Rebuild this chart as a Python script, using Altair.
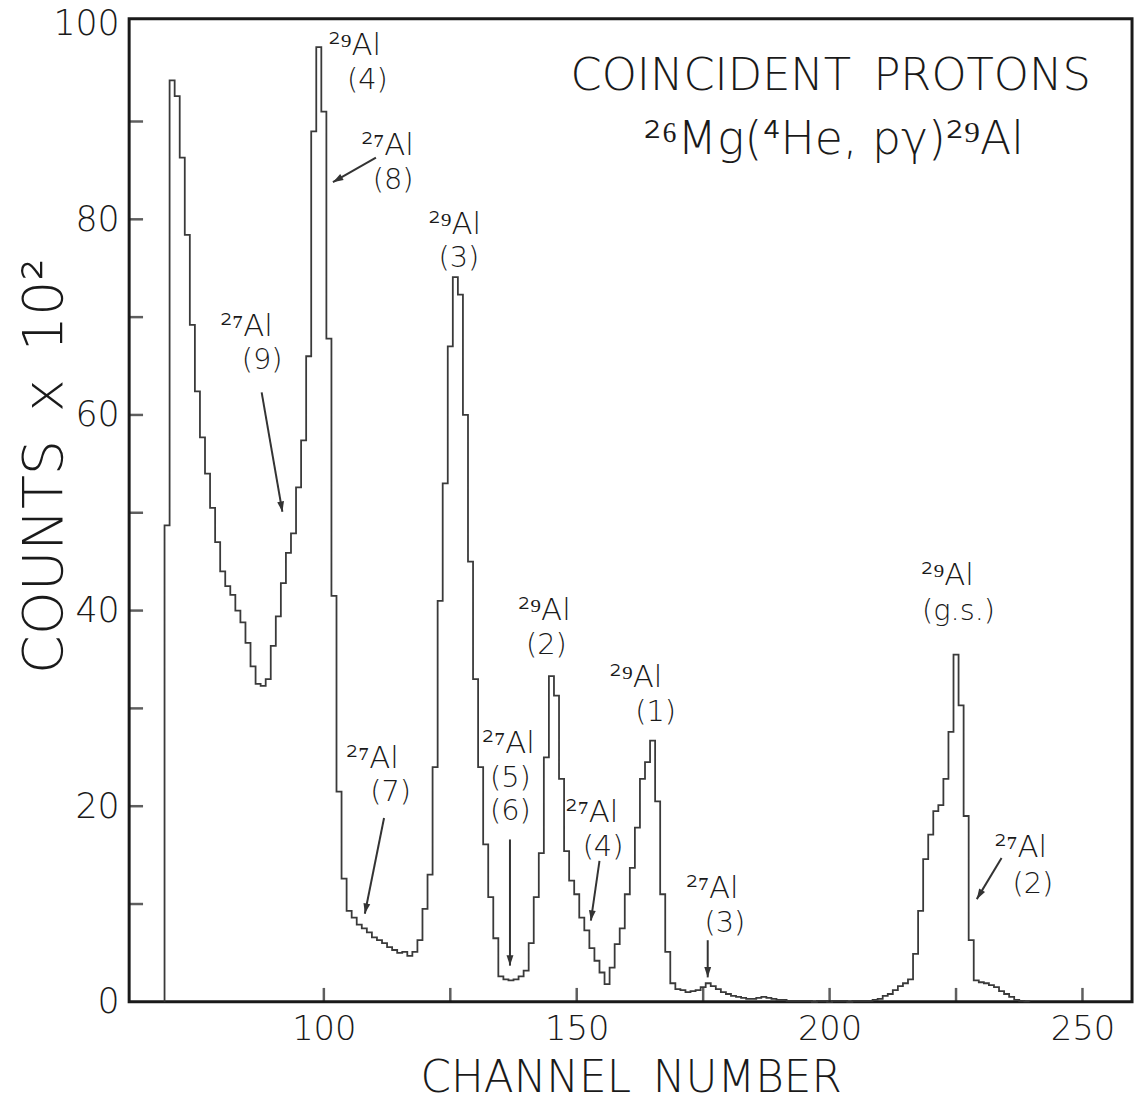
import math
import altair as alt
import pandas as pd

# ---------------- data ----------------
FIRST_CHANNEL = 69
counts = [
    48.7, 94.2, 92.6, 86.3, 78.4, 69.2, 62.4, 57.7, 54.0, 50.5,   # 69-78
    47.0, 44.0, 42.5, 41.6, 40.0, 38.8, 36.7, 34.3, 32.5, 32.3,   # 79-88
    33.0, 36.4, 39.4, 42.8, 45.9, 47.9, 52.6, 57.4, 66.0, 89.0,   # 89-98
    97.6, 91.0, 67.8, 41.5, 21.5, 12.6, 9.3, 8.6, 7.9, 7.5,       # 99-108
    7.1, 6.6, 6.3, 6.0, 5.6, 5.3, 5.0, 5.1, 4.7, 5.1,             # 109-118
    6.3, 9.5, 13.0, 24.0, 41.0, 53.0, 67.0, 74.1, 72.3, 60.0,     # 119-128
    45.0, 33.0, 24.0, 16.1, 10.7, 6.5, 2.6, 2.3, 2.2, 2.3,        # 129-138
    2.6, 3.2, 6.0, 10.7, 15.2, 25.0, 33.3, 31.3, 22.8, 15.4,      # 139-148
    12.4, 11.0, 8.6, 7.3, 5.5, 4.2, 3.0, 1.8, 3.5, 5.9,           # 149-158
    7.5, 11.0, 13.7, 17.8, 22.8, 24.5, 26.7, 20.5, 11.0, 5.1,     # 159-168
    1.9, 1.3, 1.2, 1.0, 1.1, 1.2, 1.5, 1.9, 1.6, 1.3,             # 169-178
    1.0, 0.8, 0.6, 0.5, 0.4, 0.3, 0.3, 0.4, 0.5, 0.4,             # 179-188
    0.3, 0.2, 0.2, 0.1, 0.1, 0.1, 0.1, 0.1, 0.0, 0.1,             # 189-198
    0.1, 0.0, 0.1, 0.1, 0.1, 0.0, 0.1, 0.1, 0.1, 0.1,             # 199-208
    0.2, 0.3, 0.6, 0.8, 1.2, 1.6, 1.9, 2.3, 4.9, 9.3,             # 209-218
    14.6, 17.1, 19.5, 20.1, 22.8, 27.6, 35.5, 30.3, 19.0, 6.3,    # 219-228
    2.2, 2.0, 1.9, 1.7, 1.5, 1.1, 0.8, 0.5, 0.2, 0.1, 0.05,       # 229-239
]

y_tick_values = [10, 20, 30, 40, 50, 60, 70, 80, 90]
x_tick_values = [100, 125, 150, 175, 200, 225, 250]
y_label_values = [0, 20, 40, 60, 80, 100]
x_label_values = [100, 150, 200, 250]

# isotope labels (e.g. 29Al) and their level tags
iso_text = ["²⁹Al", "²⁷Al", "²⁹Al", "²⁷Al", "²⁷Al", "²⁹Al", "²⁷Al",
            "²⁹Al", "²⁷Al", "²⁷Al", "²⁹Al", "²⁷Al"]
iso_ch = [106.1, 112.6, 125.9, 84.7, 109.6, 143.6, 136.5,
          161.7, 153.0, 176.8, 223.3, 237.8]
iso_v = [97.7, 87.5, 79.4, 69.0, 24.8, 40.0, 26.4,
         33.1, 19.3, 11.5, 43.5, 15.7]

lvl_text = ["(4)", "(8)", "(3)", "(9)", "(7)", "(2)", "(5)", "(6)",
            "(1)", "(4)", "(3)", "(g.s.)", "(2)"]
lvl_ch = [108.6, 113.7, 126.7, 87.8, 113.2, 144.0, 136.9, 136.9,
          165.6, 155.2, 179.3, 225.5, 240.2]
lvl_v = [94.2, 84.0, 76.0, 65.6, 21.4, 36.5, 22.9, 19.5,
         29.6, 15.8, 8.1, 40.0, 12.0]

# arrows: tail (ch, v) -> tip (ch2, v2)
arrow_ch = [87.7, 110.3, 111.9, 136.8, 154.5, 175.9, 234.0]
arrow_v = [62.3, 86.3, 18.8, 16.6, 14.4, 6.3, 14.7]
arrow_ch2 = [91.8, 101.8, 108.1, 136.8, 152.8, 175.9, 229.1]
arrow_v2 = [50.1, 83.8, 9.0, 3.7, 8.3, 2.5, 10.5]

title_text = ["COINCIDENT\u2002PROTONS", "²⁶Mg(⁴He, pγ)²⁹Al"]
title_ch = [200.2, 200.8]
title_v = [94.6, 88.1]

# ---------------- layout / style ----------------
W, H = 1010, 990
X_MIN, X_MAX = 61.5, 259.8
Y_MIN, Y_MAX = 0.0, 100.5
FONT = "DejaVu Sans"
WEIGHT = 200
INK = "#1a1a1a"
LINE = "#3a3a3a"

hist_rows = [{"i": 0, "ch": FIRST_CHANNEL - 0.5, "v": 0.0}]
for k, val in enumerate(counts):
    hist_rows.append({"i": k + 1, "ch": FIRST_CHANNEL + k - 0.5, "v": val})
hist_rows.append({"i": len(counts) + 1, "ch": FIRST_CHANNEL + len(counts) - 0.5, "v": 0.0})
hist_df = pd.DataFrame(hist_rows)

px_ch = W / (X_MAX - X_MIN)
px_v = H / (Y_MAX - Y_MIN)
angles = []
for a, b, c, d in zip(arrow_ch, arrow_v, arrow_ch2, arrow_v2):
    dx = (c - a) * px_ch
    dy = -(d - b) * px_v
    angles.append(math.degrees(math.atan2(dx, -dy)) % 360)

rule_df = pd.DataFrame({"ch": arrow_ch, "v": arrow_v, "ch2": arrow_ch2, "v2": arrow_v2})
head_df = pd.DataFrame({"ch": arrow_ch2, "v": arrow_v2, "ang": angles})
iso_df = pd.DataFrame({"ch": iso_ch, "v": iso_v, "label": iso_text})
lvl_df = pd.DataFrame({"ch": lvl_ch, "v": lvl_v, "label": lvl_text})
title_df = pd.DataFrame({"ch": title_ch, "v": title_v, "label": title_text,
                         "fs": [45, 46]})

x_scale = alt.Scale(domain=[X_MIN, X_MAX], nice=False, zero=False)
y_scale = alt.Scale(domain=[Y_MIN, Y_MAX], nice=False, zero=False)

x_axis = alt.Axis(values=x_label_values, ticks=False, tickSize=0, domain=False, grid=False,
                  labelFontSize=34, labelFont=FONT, labelFontWeight=WEIGHT, labelColor=INK,
                  labelPadding=11, labelFlush=False, title="CHANNEL\u2002NUMBER",
                  titleFont=FONT, titleFontSize=44, titleFontWeight=WEIGHT, titleColor=INK,
                  titleX=W / 2, titleY=90, titleAlign="center", titleBaseline="alphabetic")
y_axis = alt.Axis(values=y_label_values, ticks=False, tickSize=0, domain=False, grid=False,
                  labelFontSize=35, labelFont=FONT, labelFontWeight=WEIGHT, labelColor=INK,
                  labelPadding=10, title="COUNTS\u2002x\u200210²", titleFont=FONT,
                  titleFontSize=56, titleFontWeight=WEIGHT, titleColor=INK, titleAngle=270,
                  titleX=-68, titleY=450, titleAlign="center", titleBaseline="alphabetic")

X = alt.X("ch:Q", scale=x_scale, axis=x_axis)
Y = alt.Y("v:Q", scale=y_scale, axis=y_axis)

hist = alt.Chart(hist_df).mark_line(
    interpolate="step-after", color=LINE, strokeWidth=1.8
).encode(X, Y, order=alt.Order("i:Q"))

yticks = alt.Chart(pd.DataFrame({"v": y_tick_values})).mark_tick(
    orient="horizontal", size=14, thickness=2.5, color=INK
).encode(x=alt.value(7), y=Y)

xticks = alt.Chart(pd.DataFrame({"ch": x_tick_values})).mark_tick(
    orient="vertical", size=14, thickness=2.5, color=INK
).encode(x=X, y=alt.value(H - 7))

rules = alt.Chart(rule_df).mark_rule(color="#333333", strokeWidth=2).encode(
    X, Y, x2="ch2:Q", y2="v2:Q")

heads = alt.Chart(head_df).mark_point(
    shape="M0,0L-0.4,1.2L0.4,1.2Z", filled=True, size=300, color="#333333", opacity=1
).encode(X, Y, angle=alt.Angle("ang:Q", scale=None))

iso = alt.Chart(iso_df).mark_text(
    font=FONT, fontWeight=WEIGHT, fontSize=31, color=INK, align="center", baseline="middle"
).encode(X, Y, text="label:N")

lvl = alt.Chart(lvl_df).mark_text(
    font=FONT, fontWeight=WEIGHT, fontSize=29, color=INK, align="center", baseline="middle"
).encode(X, Y, text="label:N")

titles = alt.Chart(title_df).mark_text(
    font=FONT, fontWeight=WEIGHT, color=INK, align="center", baseline="middle"
).encode(X, Y, text="label:N", size=alt.Size("fs:Q", scale=None, legend=None))

chart = alt.layer(hist, yticks, xticks, rules, heads, iso, lvl, titles).properties(
    width=W, height=H,
    autosize=alt.AutoSizeParams(type="none"),
    padding={"left": 122, "top": 7, "right": 5, "bottom": 96},
    background="white",
).configure_view(stroke=INK, strokeWidth=3)

chart.save("out.html", embed_options={"renderer": "svg", "actions": False})
